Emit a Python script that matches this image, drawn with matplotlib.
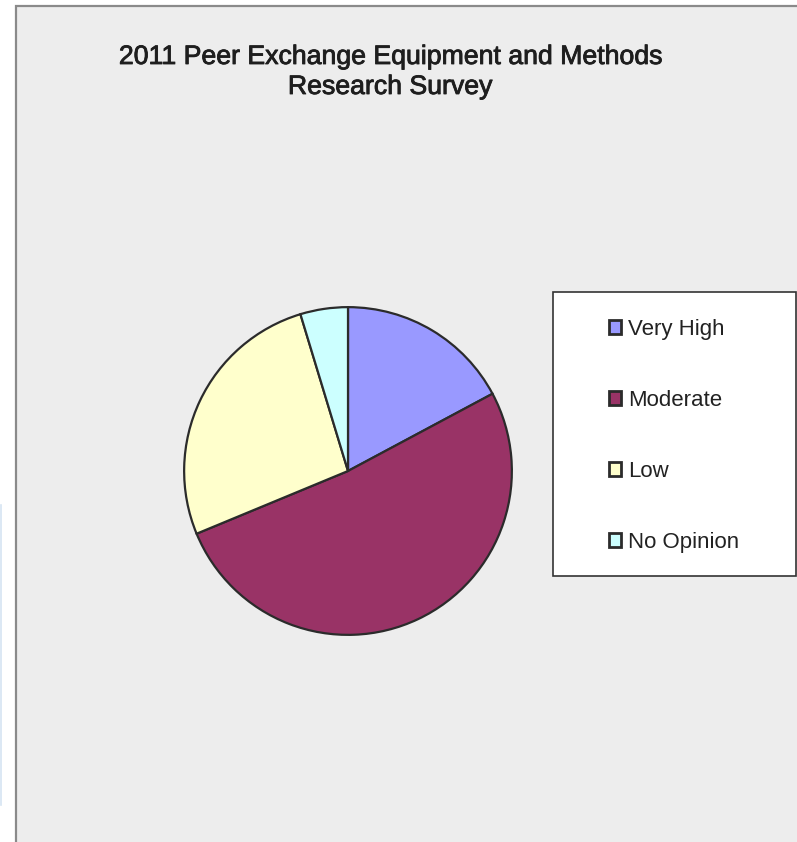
import matplotlib
matplotlib.use("Agg")
import matplotlib.pyplot as plt
from matplotlib.patches import Rectangle
import matplotlib.patheffects as pe

categories = ["Very High", "Moderate", "Low", "No Opinion"]
values = [11, 33, 17, 3]
colors = ["#9999FF", "#993366", "#FFFFCC", "#CCFFFF"]
title = "2011 Peer Exchange Equipment and Methods\nResearch Survey"

plt.rcParams['font.family'] = ['Liberation Sans', 'DejaVu Sans']

W, H = 797, 842
fig = plt.figure(figsize=(W / 100, H / 100), dpi=100)
fig.patch.set_facecolor("white")

def fx(px):
    return px / W

def fy(py):
    return 1 - py / H

# chart area background
bg = Rectangle((fx(16), -0.01), 1.0, fy(6) + 0.01, transform=fig.transFigure,
               facecolor="#EDEDED", edgecolor="#8A8A8A", linewidth=1.6, zorder=-2)
fig.add_artist(bg)
# faint blue line at far left
fig.add_artist(plt.Line2D([fx(0.5), fx(0.5)], [fy(805), fy(505)], transform=fig.transFigure,
                          color="#D6E4F2", linewidth=1.2, zorder=-2))

# pie
cx, cy, r = 348, 471, 165.5
ax = fig.add_axes([fx(cx - r), fy(cy + r), 2 * r / W, 2 * r / H])
ax.set_zorder(2)
ax.patch.set_visible(False)
wedges, _ = ax.pie(values, colors=colors, startangle=90, counterclock=False,
                   wedgeprops=dict(edgecolor="#2b2b2b", linewidth=1.6), radius=1)
ax.set_xlim(-1.01, 1.01)
ax.set_ylim(-1.01, 1.01)
ax.set_aspect("equal")
ax.axis("off")

fig.text(fx(390), fy(72), title, ha="center", va="center", fontsize=19.2,
         color="#1e1e1e", linespacing=1.2,
         path_effects=[pe.withStroke(linewidth=0.6, foreground="#1e1e1e")])

# legend box
lb = Rectangle((fx(553), fy(576)), fx(796) - fx(553), fy(292) - fy(576),
               transform=fig.transFigure, facecolor="white", edgecolor="#333333",
               linewidth=1.2, zorder=1)
fig.add_artist(lb)

leg = fig.legend(wedges, categories, loc="upper left",
                 bbox_to_anchor=(fx(609), fy(319)), frameon=False,
                 fontsize=16, labelspacing=2.25, handlelength=0.55,
                 handleheight=0.55, handletextpad=0.3, borderpad=0,
                 borderaxespad=0)
leg.set_zorder(5)
for h in leg.legend_handles:
    h.set_linewidth(2.0)
for t in leg.get_texts():
    t.set_color("#222222")

fig.savefig("out.png", dpi=100)
